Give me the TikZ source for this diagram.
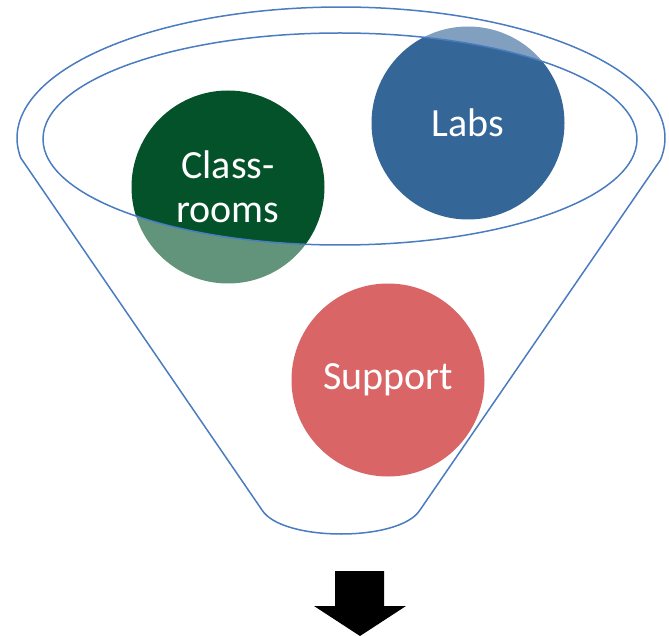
\documentclass[tikz,border=0pt]{standalone}
\usepackage{fontspec}
\setmainfont{Carlito}
\begin{document}
\definecolor{fline}{HTML}{4A7CC0}
\definecolor{cgreen}{HTML}{03522A}
\definecolor{cblue}{HTML}{346798}
\definecolor{cred}{HTML}{D96567}
\begin{tikzpicture}[x=1pt,y=-1pt,
  bubble/.style={circle,minimum size=193pt,inner sep=0pt,text=white,align=center,
    font=\fontsize{40}{44}\selectfont},
  funnelline/.style={draw=fline,line width=1.5pt}]
\useasboundingbox (0,0) rectangle (669,636);
% circles behind the funnel
\node[bubble,fill=cgreen] (cls) at (228,187) {Class-\\rooms};
\node[bubble,fill=cblue] (labs) at (468,123) {Labs};
% funnel body (semi-transparent front face)
\path[fill=white,fill opacity=0.38,even odd rule]
  plot[domain=171.2:369.7,samples=120,smooth] ({341+324*cos(\x)},{138+131*sin(\x)})
  -- (420,510) .. controls (400,542) and (282,542) .. (262,510) -- cycle
  (340,139) ellipse [x radius=297pt,y radius=106pt];
% funnel outlines
\draw[funnelline,line join=round]
  plot[domain=171.2:369.7,samples=120,smooth] ({341+324*cos(\x)},{138+131*sin(\x)})
  -- (420,510) .. controls (400,542) and (282,542) .. (262,510) -- cycle;
\draw[funnelline] (340,139) ellipse [x radius=297pt,y radius=106pt];
% support circle in front
\node[bubble,fill=cred] (sup) at (388,380) {Support};
% down arrow
\fill[black] (335,571) -- (384,571) -- (384,606) -- (406,606) -- (360,636)
  -- (314,606) -- (335,606) -- cycle;
\end{tikzpicture}
\end{document}
